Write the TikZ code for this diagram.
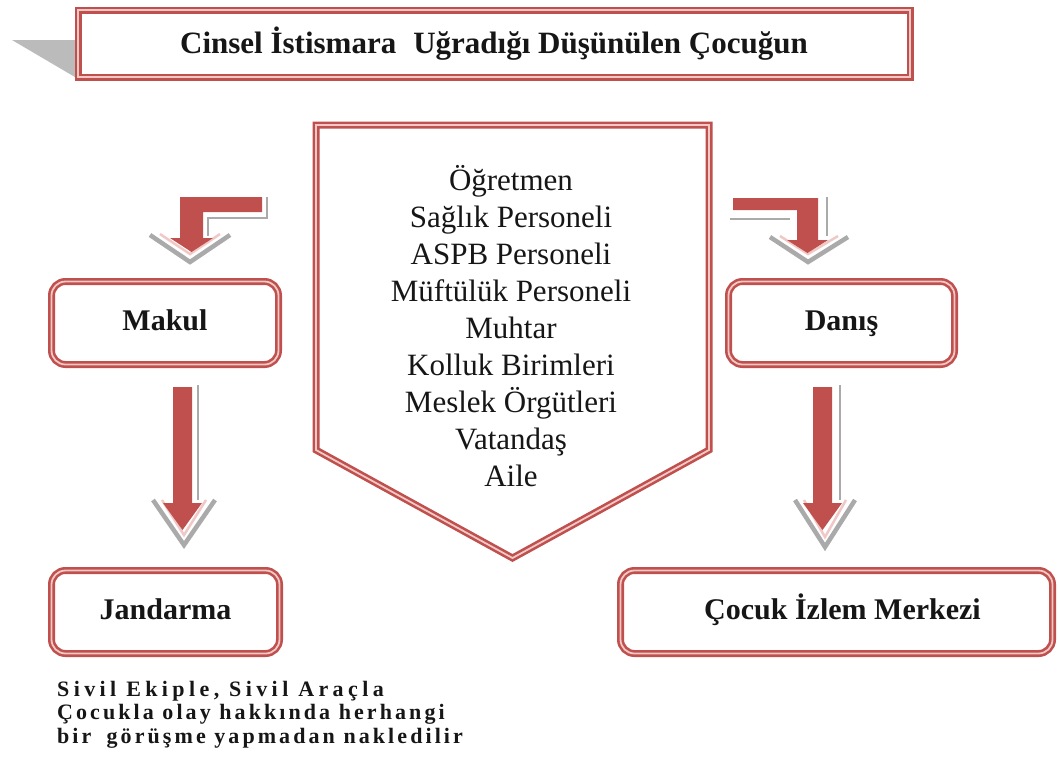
\documentclass[tikz,border=0pt]{standalone}
\usepackage{fontspec}
\setmainfont{Liberation Serif}
\newfontfamily\notefont[LetterSpace=14]{Liberation Serif}
\newfontfamily\notewide[LetterSpace=20]{Liberation Serif}
\definecolor{acc}{RGB}{192,80,77}
\definecolor{pinkl}{RGB}{240,200,198}
\definecolor{shade}{RGB}{170,170,170}
\definecolor{ink}{RGB}{22,22,22}
\tikzset{
  frame/.style={draw=acc, line width=2.6pt, double=pinkl, double distance=1.8pt},
  box/.style={frame, rounded corners=14pt, inner sep=0pt, fill=white, text=ink,
    text height=21pt, text depth=6pt,
    font=\fontsize{30}{36}\selectfont\bfseries},
  redarrow/.style={fill=acc, draw=none},
  bevel/.style={draw=shade, line width=2.6pt},
  chev/.style={draw=shade, line width=4.5pt, line join=miter},
  chevin/.style={draw=pinkl, line width=2.5pt, line join=miter},
}
\begin{document}
\begin{tikzpicture}[x=1pt,y=-1pt]
\useasboundingbox (0,0) rectangle (1058,764);
\fill[white] (0,0) rectangle (1058,764);

% title with fold
\fill[shade!80] (12,40) -- (80,40) -- (80,80) -- cycle;
\node[frame, fill=white, minimum width=832pt, minimum height=67pt, inner sep=0pt, text=ink,
  font=\fontsize{31}{36}\selectfont\bfseries] (title) at (494,43.5)
  {Cinsel İstismara\hspace{0.3em} Uğradığı Düşünülen Çocuğun};

% central pentagon
\draw[frame, line join=miter] (316,125) -- (709,125) -- (709,450) -- (512.5,558) -- (316,450) -- cycle;
\node[align=center, text=ink, font=\fontsize{31}{36.9}\selectfont] (list) at (511,326)
  {Öğretmen\\Sağlık Personeli\\ASPB Personeli\\Müftülük Personeli\\Muhtar\\Kolluk Birimleri\\Meslek Örgütleri\\Vatandaş\\Aile};

% boxes
\node[box, minimum width=227pt, minimum height=83pt] (makul) at (165,323) {Makul};
\node[box, minimum width=226pt, minimum height=83pt] (danis) at (841.5,323) {Danış};
\node[box, minimum width=228pt, minimum height=83pt] (jand) at (165.5,612) {Jandarma};
\node[box, minimum width=432pt, minimum height=83pt] (cim) at (836.5,612) {\hspace{12pt}Çocuk İzlem Merkezi};

% left bent arrow
\draw[chev] (150,235) -- (190,262) -- (230,235);
\draw[chevin] (160,234) -- (190,254) -- (220,234);
\draw[bevel] (267,197) -- (267,218) -- (208,218) -- (208,236);
\fill[redarrow] (180,197) -- (262,197) -- (262,212) -- (203,212) -- (203,238) -- (213,238)
  -- (191.5,252) -- (170,238) -- (180,238) -- cycle;

% right bent arrow
\draw[chev] (770,237) -- (808,262) -- (848,237);
\draw[chevin] (780,236) -- (808,254) -- (838,236);
\draw[bevel] (730,219) -- (790,219);
\draw[bevel] (827,197) -- (827,236);
\fill[redarrow] (733,198) -- (818,198) -- (818,240) -- (828,240) -- (807.5,253) -- (787,240)
  -- (797,240) -- (797,210) -- (733,210) -- cycle;

% left vertical arrow
\draw[chev] (153,500) -- (184,545) -- (215,500);
\draw[chevin] (162,500) -- (184,535) -- (206,500);
\draw[bevel] (198,385) -- (198,500);
\fill[redarrow] (173,387) -- (192,387) -- (192,503) -- (202,503) -- (182.5,530) -- (163,503)
  -- (173,503) -- cycle;

% right vertical arrow
\draw[chev] (795,500) -- (825,547) -- (855,500);
\draw[chevin] (804,500) -- (825,537) -- (846,500);
\draw[bevel] (840,385) -- (840,500);
\fill[redarrow] (813,387) -- (832,387) -- (832,503) -- (842,503) -- (822.5,530) -- (803,503)
  -- (813,503) -- cycle;

% note
\node[anchor=north west, align=left, inner sep=0pt, text=ink,
  font={\notefont\bfseries\fontsize{22}{23.5}\selectfont}] (note) at (57,681)
  {{\notewide\bfseries Sivil Ekiple, Sivil Araçla}\\Çocukla olay hakkında herhangi\\bir\hspace{0.3em} görüşme yapmadan nakledilir};
\end{tikzpicture}
\end{document}
